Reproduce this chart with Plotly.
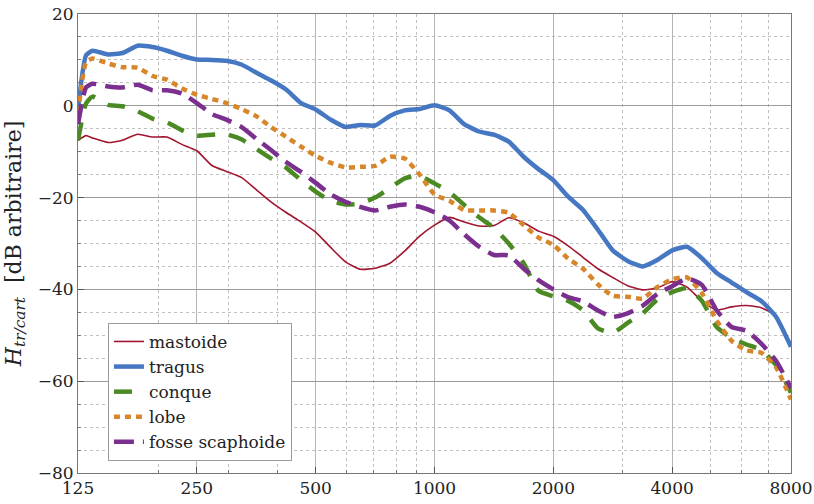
import plotly.graph_objects as go

# fréquences (Hz), pas d'environ 1/8 d'octave
freq = [125, 131, 136, 149, 162, 177, 193, 210, 229, 250, 273, 297, 324, 354, 386,
        420, 459, 500, 545, 595, 648, 707, 771, 841, 917, 1000, 1091, 1189, 1297,
        1414, 1542, 1682, 1834, 2000, 2181, 2378, 2594, 2828, 3084, 3364, 3668,
        4000, 4362, 4757, 5187, 5657, 6169, 6727, 7336, 8000]

mastoide = [-7.5, -6.5, -7.0, -8.0, -7.5, -6.2, -6.8, -6.8, -8.4, -9.8, -13.0, -14.3,
            -15.6, -18.3, -21.0, -23.2, -25.3, -27.5, -30.8, -34.0, -35.6, -35.4,
            -34.3, -31.6, -28.4, -26.0, -24.3, -25.3, -26.2, -26.1, -24.4, -25.5,
            -27.3, -28.4, -30.5, -33.0, -35.5, -37.4, -39.2, -40.1, -39.7, -38.3,
            -39.5, -42.5, -44.5, -43.8, -43.5, -44.0, -45.8, -52.0]

tragus = [-0.5, 11.0, 12.0, 11.2, 11.5, 13.1, 12.8, 12.0, 10.9, 10.1, 10.0, 9.8, 9.0,
          7.2, 5.5, 3.6, 0.6, -0.8, -3.0, -4.6, -4.2, -4.3, -2.2, -1.0, -0.7, 0.1,
          -1.0, -4.0, -5.6, -6.3, -7.8, -11.1, -13.8, -16.2, -19.8, -22.7, -27.0,
          -31.5, -33.8, -35.0, -33.6, -31.5, -30.7, -33.2, -36.4, -38.5, -40.6,
          -42.5, -46.0, -52.5]

conque = [-7.5, 0.5, 2.0, 0.2, -0.1, -1.2, -2.8, -3.6, -5.3, -6.5, -6.3, -6.2, -7.3,
          -9.4, -11.5, -13.4, -16.2, -18.7, -20.7, -21.5, -21.3, -20.0, -17.9, -15.8,
          -15.3, -16.9, -18.8, -21.6, -24.3, -26.6, -30.0, -34.3, -40.3, -41.5,
          -42.5, -44.5, -48.5, -49.5, -47.3, -45.3, -42.2, -40.6, -39.7, -42.5,
          -48.2, -50.6, -52.0, -53.2, -56.5, -62.5]

lobe = [-1.5, 9.5, 10.3, 9.2, 8.4, 8.3, 6.5, 5.7, 3.8, 2.4, 1.5, 0.6, -0.7, -2.3,
        -4.7, -6.7, -8.9, -10.9, -12.4, -13.4, -13.3, -13.1, -11.1, -11.5, -15.0,
        -19.3, -20.7, -22.7, -22.8, -22.8, -23.3, -26.0, -28.7, -30.3, -33.3, -35.5,
        -38.9, -41.4, -41.6, -42.0, -39.5, -37.8, -37.4, -40.8, -46.8, -51.2, -53.3,
        -53.8, -57.0, -64.0]

fosse = [-4.0, 4.0, 4.8, 4.2, 4.0, 4.6, 3.4, 3.4, 2.7, 0.6, -1.8, -3.0, -4.6, -7.2,
         -9.7, -12.2, -14.4, -16.8, -19.3, -20.9, -22.0, -22.8, -22.0, -21.5, -22.0,
         -23.2, -25.0, -28.0, -30.7, -32.5, -32.6, -35.5, -38.0, -40.0, -41.7, -42.6,
         -44.6, -46.0, -45.2, -43.6, -41.0, -39.3, -37.6, -39.0, -44.6, -48.2, -49.0,
         -51.8, -55.6, -61.5]

x_ticks = [125, 250, 500, 1000, 2000, 4000, 8000]
x_minor = [200, 300, 400, 600, 700, 800, 900, 3000, 5000, 6000, 7000]

SERIF = "DejaVu Serif"

series = [
    ("mastoide", mastoide, dict(color="#A2142F", width=1.6)),
    ("tragus", tragus, dict(color="#4677C2", width=4.5)),
    ("conque", conque, dict(color="#4B8A23", width=4.5, dash="18px,14px")),
    ("lobe", lobe, dict(color="#D8862A", width=4.5, dash="6px,5px")),
    ("fosse scaphoide", fosse, dict(color="#7B2F8E", width=4.5, dash="20px,9px")),
]

fig = go.Figure()
for name, vals, line in series:
    fig.add_trace(go.Scatter(x=freq, y=vals, mode="lines", name=name,
                             line=dict(shape="spline", smoothing=0.5, **line)))

fig.update_layout(
    width=814, height=504,
    margin=dict(l=78, r=23, t=14, b=31),
    paper_bgcolor="white", plot_bgcolor="white",
    font=dict(family=SERIF, size=17, color="#222"),
    showlegend=True,
    legend=dict(x=0.042, y=0.327, xanchor="left", yanchor="top",
                bgcolor="white", bordercolor="#9a9a9a", borderwidth=1,
                font=dict(size=17), itemwidth=30, tracegroupgap=0),
)

fig.update_xaxes(
    type="log", range=[2.09691, 3.90309], automargin=False,
    tickmode="array", tickvals=x_ticks, ticktext=[str(v) for v in x_ticks],
    ticks="inside", ticklen=6, tickcolor="#555",
    showgrid=True, gridcolor="#b4b4b4", gridwidth=1.3,
    minor=dict(tickmode="array", tickvals=x_minor, showgrid=True,
               gridcolor="#c0c0c0", griddash="dot", gridwidth=1,
               ticks="inside", ticklen=3, tickcolor="#777"),
    showline=True, linecolor="#777", linewidth=1, mirror=True,
    zeroline=False,
)

fig.update_yaxes(
    range=[-80, 20], automargin=False,
    tickmode="array", tickvals=[-80, -60, -40, -20, 0, 20],
    ticks="inside", ticklen=6, tickcolor="#555",
    showgrid=True, gridcolor="#9a9a9a", gridwidth=1,
    minor=dict(dtick=5, showgrid=True, gridcolor="#c0c0c0", griddash="dot",
               gridwidth=1, ticks="inside", ticklen=3, tickcolor="#777"),
    showline=True, linecolor="#777", linewidth=1, mirror=True,
    zeroline=False,
    title=dict(text="<i>H</i><sub><i>tr/cart</i></sub>  [dB arbitraire]",
               font=dict(size=22), standoff=10),
)

# pas de marge de page autour du graphique
fig.write_html("out.html", config={"displayModeBar": False},
               post_script="document.body.style.margin='0';")
